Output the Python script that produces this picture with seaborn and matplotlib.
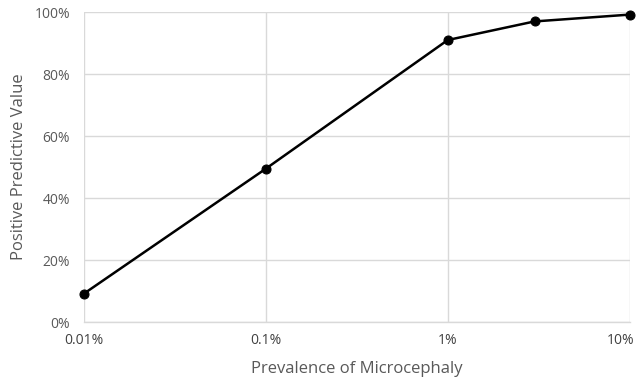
import numpy as np
import pandas as pd
import matplotlib
matplotlib.use("Agg")
import matplotlib.pyplot as plt
import matplotlib.transforms as mtransforms
import seaborn as sns
from matplotlib.ticker import FuncFormatter, FixedLocator, NullLocator

prevalence = [0.01, 0.1, 1.0, 3.0, 10.0]
ppv = [9.2, 49.5, 91.0, 97.0, 99.2]
x_ticks = [0.01, 0.1, 1, 10]
x_labels = ["0.01%", "0.1%", "1%", "10%"]
y_ticks = [0, 20, 40, 60, 80, 100]

df = pd.DataFrame({"prevalence": prevalence, "ppv": ppv})

sns.set_theme(style="white")
plt.rcParams["font.family"] = ["Open Sans", "DejaVu Sans"]

fig = plt.figure(figsize=(6.36, 3.79), dpi=100)
ax = fig.add_axes([0.132, 0.150, 0.858, 0.818])

sns.lineplot(data=df, x="prevalence", y="ppv", ax=ax, color="black",
             linewidth=1.8, marker="o", markersize=6.5, markeredgecolor="black")

ax.set_xscale("log")
ax.set_xlim(0.01, 10)
ax.set_ylim(0, 100)
ax.xaxis.set_major_locator(FixedLocator(x_ticks))
ax.xaxis.set_minor_locator(NullLocator())
ax.set_xticklabels(x_labels)
ax.set_yticks(y_ticks)
ax.yaxis.set_major_formatter(FuncFormatter(lambda v, p: f"{int(v)}%"))

ax.grid(True, color="#d9d9d9", linewidth=1)
ax.set_axisbelow(True)
for s in ["top", "right", "left"]:
    ax.spines[s].set_visible(False)
ax.spines["bottom"].set_color("#d9d9d9")
ax.spines["bottom"].set_linewidth(1)

ax.tick_params(axis="x", colors="#404040", labelsize=10, length=0, pad=8)
ax.tick_params(axis="y", colors="#595959", labelsize=10, length=0, pad=10)

# keep the last x label inside the figure
last = ax.get_xticklabels()[-1]
last.set_horizontalalignment("right")
last.set_transform(last.get_transform() + mtransforms.ScaledTranslation(0.05, 0, fig.dpi_scale_trans))

ax.set_xlabel("Prevalence of Microcephaly", fontsize=12, color="#595959", labelpad=9)
ax.set_ylabel("Positive Predictive Value", fontsize=12, color="#595959", labelpad=5)

for line in ax.lines:
    line.set_clip_on(False)

fig.savefig("out.png", dpi=100)
